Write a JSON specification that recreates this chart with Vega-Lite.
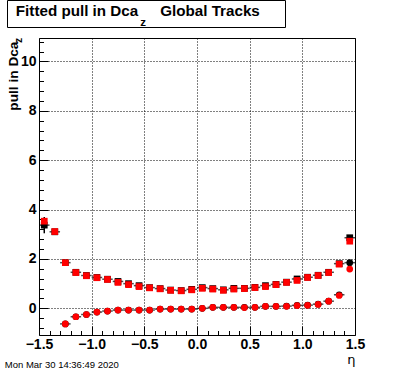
{
  "$schema": "https://vega.github.io/schema/vega-lite/v6.json",
  "padding": {"left": 4, "top": -1, "right": 5, "bottom": 0},
  "background": "white",
  "config": {"font": "Liberation Sans", "axis": {"tickColor": "black", "labelColor": "black", "titleColor": "black"}},
  "title": {"text": "Mon Mar 30 14:36:49 2020", "orient": "bottom", "anchor": "start", "frame": "bounds", "fontSize": 9.5, "fontWeight": "normal", "font": "Liberation Sans", "color": "black", "offset": -7, "dx": -1},
  "spacing": 7,
  "datasets": {
    "pts": [
      {"eta": -1.45, "stat": "sigma", "h": "red", "v": 3.53, "err": 0.05},
      {"eta": -1.35, "stat": "sigma", "h": "red", "v": 3.11, "err": 0.05},
      {"eta": -1.25, "stat": "sigma", "h": "red", "v": 1.85, "err": 0.03},
      {"eta": -1.15, "stat": "sigma", "h": "red", "v": 1.45, "err": 0.03},
      {"eta": -1.05, "stat": "sigma", "h": "red", "v": 1.32, "err": 0.03},
      {"eta": -0.95, "stat": "sigma", "h": "red", "v": 1.24, "err": 0.03},
      {"eta": -0.85, "stat": "sigma", "h": "red", "v": 1.17, "err": 0.03},
      {"eta": -0.75, "stat": "sigma", "h": "red", "v": 1.05, "err": 0.03},
      {"eta": -0.65, "stat": "sigma", "h": "red", "v": 0.96, "err": 0.03},
      {"eta": -0.55, "stat": "sigma", "h": "red", "v": 0.88, "err": 0.03},
      {"eta": -0.45, "stat": "sigma", "h": "red", "v": 0.83, "err": 0.03},
      {"eta": -0.35, "stat": "sigma", "h": "red", "v": 0.79, "err": 0.03},
      {"eta": -0.25, "stat": "sigma", "h": "red", "v": 0.73, "err": 0.03},
      {"eta": -0.15, "stat": "sigma", "h": "red", "v": 0.71, "err": 0.03},
      {"eta": -0.05, "stat": "sigma", "h": "red", "v": 0.75, "err": 0.03},
      {"eta": 0.05, "stat": "sigma", "h": "red", "v": 0.81, "err": 0.03},
      {"eta": 0.15, "stat": "sigma", "h": "red", "v": 0.78, "err": 0.03},
      {"eta": 0.25, "stat": "sigma", "h": "red", "v": 0.73, "err": 0.03},
      {"eta": 0.35, "stat": "sigma", "h": "red", "v": 0.78, "err": 0.03},
      {"eta": 0.45, "stat": "sigma", "h": "red", "v": 0.8, "err": 0.03},
      {"eta": 0.55, "stat": "sigma", "h": "red", "v": 0.84, "err": 0.03},
      {"eta": 0.65, "stat": "sigma", "h": "red", "v": 0.88, "err": 0.03},
      {"eta": 0.75, "stat": "sigma", "h": "red", "v": 0.96, "err": 0.03},
      {"eta": 0.85, "stat": "sigma", "h": "red", "v": 1.05, "err": 0.03},
      {"eta": 0.95, "stat": "sigma", "h": "red", "v": 1.13, "err": 0.03},
      {"eta": 1.05, "stat": "sigma", "h": "red", "v": 1.25, "err": 0.03},
      {"eta": 1.15, "stat": "sigma", "h": "red", "v": 1.33, "err": 0.03},
      {"eta": 1.25, "stat": "sigma", "h": "red", "v": 1.45, "err": 0.03},
      {"eta": 1.35, "stat": "sigma", "h": "red", "v": 1.79, "err": 0.04},
      {"eta": 1.45, "stat": "sigma", "h": "red", "v": 2.72, "err": 0.08},
      {"eta": -1.25, "stat": "mean", "h": "red", "v": -0.63, "err": 0.03},
      {"eta": -1.15, "stat": "mean", "h": "red", "v": -0.34, "err": 0.03},
      {"eta": -1.05, "stat": "mean", "h": "red", "v": -0.25, "err": 0.03},
      {"eta": -0.95, "stat": "mean", "h": "red", "v": -0.15, "err": 0.03},
      {"eta": -0.85, "stat": "mean", "h": "red", "v": -0.11, "err": 0.03},
      {"eta": -0.75, "stat": "mean", "h": "red", "v": -0.07, "err": 0.03},
      {"eta": -0.65, "stat": "mean", "h": "red", "v": -0.07, "err": 0.03},
      {"eta": -0.55, "stat": "mean", "h": "red", "v": -0.07, "err": 0.03},
      {"eta": -0.45, "stat": "mean", "h": "red", "v": -0.07, "err": 0.03},
      {"eta": -0.35, "stat": "mean", "h": "red", "v": -0.03, "err": 0.03},
      {"eta": -0.25, "stat": "mean", "h": "red", "v": -0.03, "err": 0.03},
      {"eta": -0.15, "stat": "mean", "h": "red", "v": -0.03, "err": 0.03},
      {"eta": -0.05, "stat": "mean", "h": "red", "v": -0.03, "err": 0.03},
      {"eta": 0.05, "stat": "mean", "h": "red", "v": 0.0, "err": 0.03},
      {"eta": 0.15, "stat": "mean", "h": "red", "v": 0.04, "err": 0.03},
      {"eta": 0.25, "stat": "mean", "h": "red", "v": 0.04, "err": 0.03},
      {"eta": 0.35, "stat": "mean", "h": "red", "v": 0.04, "err": 0.03},
      {"eta": 0.45, "stat": "mean", "h": "red", "v": 0.03, "err": 0.03},
      {"eta": 0.55, "stat": "mean", "h": "red", "v": 0.04, "err": 0.03},
      {"eta": 0.65, "stat": "mean", "h": "red", "v": 0.08, "err": 0.03},
      {"eta": 0.75, "stat": "mean", "h": "red", "v": 0.08, "err": 0.03},
      {"eta": 0.85, "stat": "mean", "h": "red", "v": 0.08, "err": 0.03},
      {"eta": 0.95, "stat": "mean", "h": "red", "v": 0.11, "err": 0.03},
      {"eta": 1.05, "stat": "mean", "h": "red", "v": 0.12, "err": 0.03},
      {"eta": 1.15, "stat": "mean", "h": "red", "v": 0.16, "err": 0.03},
      {"eta": 1.25, "stat": "mean", "h": "red", "v": 0.29, "err": 0.03},
      {"eta": 1.35, "stat": "mean", "h": "red", "v": 0.52, "err": 0.04},
      {"eta": 1.45, "stat": "mean", "h": "red", "v": 1.59, "err": 0.06},
      {"eta": -1.45, "stat": "sigma", "h": "black", "v": 3.37, "err": 0.33},
      {"eta": -1.35, "stat": "sigma", "h": "black", "v": 3.1, "err": 0.06},
      {"eta": -1.25, "stat": "sigma", "h": "black", "v": 1.85, "err": 0.03},
      {"eta": -1.15, "stat": "sigma", "h": "black", "v": 1.46, "err": 0.03},
      {"eta": -1.05, "stat": "sigma", "h": "black", "v": 1.33, "err": 0.03},
      {"eta": -0.95, "stat": "sigma", "h": "black", "v": 1.25, "err": 0.03},
      {"eta": -0.85, "stat": "sigma", "h": "black", "v": 1.18, "err": 0.03},
      {"eta": -0.75, "stat": "sigma", "h": "black", "v": 1.09, "err": 0.03},
      {"eta": -0.65, "stat": "sigma", "h": "black", "v": 1.0, "err": 0.03},
      {"eta": -0.55, "stat": "sigma", "h": "black", "v": 0.92, "err": 0.03},
      {"eta": -0.45, "stat": "sigma", "h": "black", "v": 0.84, "err": 0.03},
      {"eta": -0.35, "stat": "sigma", "h": "black", "v": 0.8, "err": 0.03},
      {"eta": -0.25, "stat": "sigma", "h": "black", "v": 0.74, "err": 0.03},
      {"eta": -0.15, "stat": "sigma", "h": "black", "v": 0.72, "err": 0.03},
      {"eta": -0.05, "stat": "sigma", "h": "black", "v": 0.77, "err": 0.03},
      {"eta": 0.05, "stat": "sigma", "h": "black", "v": 0.84, "err": 0.03},
      {"eta": 0.15, "stat": "sigma", "h": "black", "v": 0.8, "err": 0.03},
      {"eta": 0.25, "stat": "sigma", "h": "black", "v": 0.75, "err": 0.03},
      {"eta": 0.35, "stat": "sigma", "h": "black", "v": 0.81, "err": 0.03},
      {"eta": 0.45, "stat": "sigma", "h": "black", "v": 0.81, "err": 0.03},
      {"eta": 0.55, "stat": "sigma", "h": "black", "v": 0.85, "err": 0.03},
      {"eta": 0.65, "stat": "sigma", "h": "black", "v": 0.92, "err": 0.03},
      {"eta": 0.75, "stat": "sigma", "h": "black", "v": 0.97, "err": 0.03},
      {"eta": 0.85, "stat": "sigma", "h": "black", "v": 1.06, "err": 0.03},
      {"eta": 0.95, "stat": "sigma", "h": "black", "v": 1.19, "err": 0.03},
      {"eta": 1.05, "stat": "sigma", "h": "black", "v": 1.26, "err": 0.03},
      {"eta": 1.15, "stat": "sigma", "h": "black", "v": 1.34, "err": 0.03},
      {"eta": 1.25, "stat": "sigma", "h": "black", "v": 1.46, "err": 0.03},
      {"eta": 1.35, "stat": "sigma", "h": "black", "v": 1.81, "err": 0.04},
      {"eta": 1.45, "stat": "sigma", "h": "black", "v": 2.86, "err": 0.1},
      {"eta": -1.25, "stat": "mean", "h": "black", "v": -0.63, "err": 0.03},
      {"eta": -1.15, "stat": "mean", "h": "black", "v": -0.34, "err": 0.03},
      {"eta": -1.05, "stat": "mean", "h": "black", "v": -0.25, "err": 0.03},
      {"eta": -0.95, "stat": "mean", "h": "black", "v": -0.15, "err": 0.03},
      {"eta": -0.85, "stat": "mean", "h": "black", "v": -0.11, "err": 0.03},
      {"eta": -0.75, "stat": "mean", "h": "black", "v": -0.07, "err": 0.03},
      {"eta": -0.65, "stat": "mean", "h": "black", "v": -0.07, "err": 0.03},
      {"eta": -0.55, "stat": "mean", "h": "black", "v": -0.07, "err": 0.03},
      {"eta": -0.45, "stat": "mean", "h": "black", "v": -0.07, "err": 0.03},
      {"eta": -0.35, "stat": "mean", "h": "black", "v": -0.03, "err": 0.03},
      {"eta": -0.25, "stat": "mean", "h": "black", "v": -0.03, "err": 0.03},
      {"eta": -0.15, "stat": "mean", "h": "black", "v": -0.03, "err": 0.03},
      {"eta": -0.05, "stat": "mean", "h": "black", "v": -0.03, "err": 0.03},
      {"eta": 0.05, "stat": "mean", "h": "black", "v": 0.0, "err": 0.03},
      {"eta": 0.15, "stat": "mean", "h": "black", "v": 0.04, "err": 0.03},
      {"eta": 0.25, "stat": "mean", "h": "black", "v": 0.04, "err": 0.03},
      {"eta": 0.35, "stat": "mean", "h": "black", "v": 0.04, "err": 0.03},
      {"eta": 0.45, "stat": "mean", "h": "black", "v": 0.04, "err": 0.03},
      {"eta": 0.55, "stat": "mean", "h": "black", "v": 0.04, "err": 0.03},
      {"eta": 0.65, "stat": "mean", "h": "black", "v": 0.08, "err": 0.03},
      {"eta": 0.75, "stat": "mean", "h": "black", "v": 0.08, "err": 0.03},
      {"eta": 0.85, "stat": "mean", "h": "black", "v": 0.09, "err": 0.03},
      {"eta": 0.95, "stat": "mean", "h": "black", "v": 0.12, "err": 0.03},
      {"eta": 1.05, "stat": "mean", "h": "black", "v": 0.13, "err": 0.03},
      {"eta": 1.15, "stat": "mean", "h": "black", "v": 0.17, "err": 0.03},
      {"eta": 1.25, "stat": "mean", "h": "black", "v": 0.29, "err": 0.03},
      {"eta": 1.35, "stat": "mean", "h": "black", "v": 0.55, "err": 0.04},
      {"eta": 1.45, "stat": "mean", "h": "black", "v": 1.85, "err": 0.07}
    ]
  },
  "vconcat": [
    {
      "width": 278,
      "height": 27,
      "view": {"stroke": "black", "strokeWidth": 1, "fill": "white"},
      "data": {"values": [{"a": "Fitted pull in Dca", "b": "Global Tracks", "c": "z"}]},
      "layer": [
        {"mark": {"type": "text", "font": "Liberation Sans", "fontWeight": "bold", "fontSize": 15.2, "align": "center", "baseline": "alphabetic", "dx": -69, "dy": 2.8, "color": "black"}, "encoding": {"text": {"field": "a"}}},
        {"mark": {"type": "text", "font": "Liberation Sans", "fontWeight": "bold", "fontSize": 15.2, "align": "center", "baseline": "alphabetic", "dx": 64, "dy": 2.8, "color": "black"}, "encoding": {"text": {"field": "b"}}},
        {"mark": {"type": "text", "font": "Liberation Sans", "fontWeight": "bold", "fontSize": 11.5, "align": "center", "baseline": "alphabetic", "dx": -3, "dy": 12.5, "color": "black"}, "encoding": {"text": {"field": "c"}}}
      ]
    },
    {
      "spacing": -3,
      "hconcat": [
        {
          "width": 1,
          "height": 297,
          "view": {"stroke": null, "fill": null},
          "data": {"values": [{"t": ""}]},
          "mark": {"type": "text"},
          "encoding": {"text": {"field": "t"}}
        },
        {
          "width": 316,
          "height": 297,
          "view": {"stroke": "black", "strokeWidth": 1},
          "data": {"name": "pts"},
          "layer": [
            {
              "transform": [{"filter": "datum.h === 'black'"}],
              "mark": {"type": "errorbar", "color": "black", "thickness": 1.5},
              "encoding": {
                "x": {"field": "eta", "type": "quantitative", "scale": {"domain": [-1.5, 1.5], "nice": false, "zero": false}, "axis": null},
                "y": {"field": "v", "type": "quantitative", "scale": {"domain": [-1.08, 10.95], "nice": false, "zero": false}, "axis": null},
                "yError": {"field": "err"}
              }
            },
            {
              "transform": [{"filter": "datum.h === 'black'"}],
              "mark": {"type": "tick", "orient": "horizontal", "size": 10.5, "thickness": 1.5, "color": "black"},
              "encoding": {
                "x": {"field": "eta", "type": "quantitative", "scale": {"domain": [-1.5, 1.5], "nice": false, "zero": false}, "axis": null},
                "y": {"field": "v", "type": "quantitative", "scale": {"domain": [-1.08, 10.95], "nice": false, "zero": false}, "axis": null}
              }
            },
            {
              "transform": [{"filter": "datum.h === 'black'"}],
              "mark": {"type": "point", "filled": true, "color": "black", "size": 45, "opacity": 1},
              "encoding": {
                "x": {"field": "eta", "type": "quantitative", "scale": {"domain": [-1.5, 1.5], "nice": false, "zero": false},
                  "axis": {"orient": "bottom", "values": [-1.4, -1.3, -1.2, -1.1, -0.9, -0.8, -0.7, -0.6, -0.4, -0.3, -0.2, -0.1, 0.1, 0.2, 0.3, 0.4, 0.6, 0.7, 0.8, 0.9, 1.1, 1.2, 1.3, 1.4], "labels": false, "grid": false, "domain": false, "tickSize": -4.5, "tickWidth": 1, "title": null}},
                "y": {"field": "v", "type": "quantitative", "scale": {"domain": [-1.08, 10.95], "nice": false, "zero": false},
                  "axis": {"orient": "left", "values": [-0.8, -0.4, 0.4, 0.8, 1.2, 1.6, 2.4, 2.8, 3.2, 3.6, 4.4, 4.8, 5.2, 5.6, 6.4, 6.8, 7.2, 7.6, 8.4, 8.8, 9.2, 9.6, 10.4, 10.8], "labels": false, "grid": false, "domain": false, "tickSize": -4.5, "tickWidth": 1,
                    "title": "z", "titleFont": "Liberation Sans", "titleFontSize": 10.5, "titleFontWeight": "bold", "titleAngle": -90, "titleAlign": "left", "titleBaseline": "alphabetic", "titleX": -18, "titleY": 4.5}},
                "shape": {"field": "stat", "type": "nominal", "scale": {"domain": ["sigma", "mean"], "range": ["square", "circle"]}, "legend": null}
              }
            },
            {
              "transform": [{"filter": "datum.h === 'red'"}],
              "mark": {"type": "point", "filled": true, "color": "#ff0000", "size": 45, "opacity": 1},
              "encoding": {
                "x": {"field": "eta", "type": "quantitative", "scale": {"domain": [-1.5, 1.5], "nice": false, "zero": false},
                  "axis": {"orient": "bottom", "values": [-1.5, -1, -0.5, 0, 0.5, 1, 1.5], "grid": true, "gridDash": [1, 2], "gridColor": "black", "gridOpacity": 1, "gridWidth": 1, "domain": false, "tickSize": -9, "tickWidth": 1,
                    "labelFont": "Liberation Sans", "labelFontWeight": "bold", "labelFontSize": 14, "labelPadding": 11, "labelFlush": false, "labelOverlap": false,
                    "title": "η", "titleFont": "DejaVu Sans", "titleFontWeight": "normal", "titleFontSize": 13, "titleAnchor": "end", "titlePadding": 2}},
                "y": {"field": "v", "type": "quantitative", "scale": {"domain": [-1.08, 10.95], "nice": false, "zero": false},
                  "axis": {"orient": "left", "values": [0, 2, 4, 6, 8, 10], "grid": true, "gridDash": [1, 2], "gridColor": "black", "gridOpacity": 1, "gridWidth": 1, "domain": false, "tickSize": -9, "tickWidth": 1,
                    "labelFont": "Liberation Sans", "labelFontWeight": "bold", "labelFontSize": 14, "labelPadding": 12, "labelFlush": false, "labelOverlap": false,
                    "title": "pull in Dca", "titleFont": "Liberation Sans", "titleFontSize": 13.7, "titleFontWeight": "bold", "titleAngle": -90, "titleAlign": "right", "titleBaseline": "alphabetic", "titleX": -21.7, "titleY": 3}},
                "shape": {"field": "stat", "type": "nominal", "scale": {"domain": ["sigma", "mean"], "range": ["square", "circle"]}, "legend": null}
              }
            }
          ],
          "resolve": {"axis": {"x": "independent", "y": "independent"}}
        }
      ]
    }
  ]
}
